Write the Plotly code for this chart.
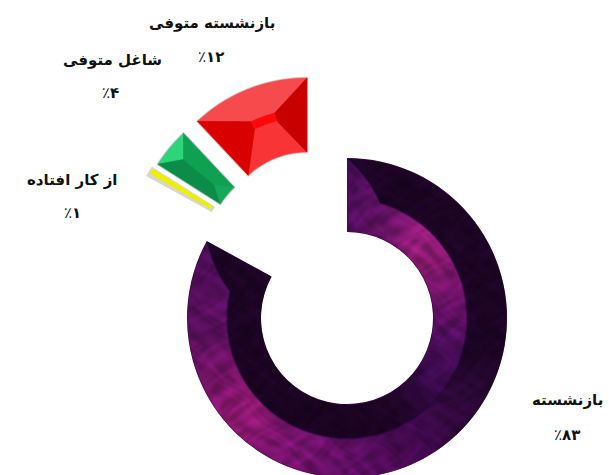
import base64
import math
import struct
import zlib

import numpy as np
import plotly.graph_objects as go

# ---- data ----
categories = ["بازنشسته", "از کار افتاده", "شاغل متوفی", "بازنشسته متوفی"]
shares = [83, 1, 4, 12]
share_digits = ["۸۳", "۱", "۴", "۱۲"]

# ---- layout constants (pixels) ----
W, H = 609, 478
CX, CY, R = 347, 318, 160
HOLE = 86
RMID = 120
OFFSETS = [(0, 0), (-60, -65), (-54, -68), (-40, -80)]
BASE = ["#3a0d45", "#d6d6d6", "#0f9a52", "#e01010"]
RIM = [0, 1, 2.5, 2.5]
LABEL_POS = [(567, 400, 567, 435), (72, 180, 72, 213), (112, 60, 110, 93), (212, 23, 211, 57)]
FONT = "DejaVu Sans"

OUTER_STOPS = [(0, "#1c0524"), (105, "#1d0526"), (125, "#2a0834"), (150, "#40094c"),
               (180, "#5c0e60"), (205, "#7a1470"), (226, "#981a78"), (245, "#761466"),
               (265, "#5c1060"), (300, "#4a0d54")]
INNER_STOPS = [(0, "#4e0e5c"), (25, "#6c1468"), (45, "#961d78"), (60, "#8a1a72"),
               (80, "#6a1266"), (100, "#4f0e5c"), (125, "#3a0a4c"), (150, "#200528"),
               (175, "#1a0422"), (300, "#1c0524")]


def hex2rgb(c):
    return [int(c[i:i + 2], 16) for i in (1, 3, 5)]


def px(cx, cy, r, a):
    th = math.radians(a)
    return cx + r * math.sin(th), cy - r * math.cos(th)


def facet(center, pts, color, line=0.6):
    """pts: (radius, angle) pairs in polar coordinates about the slice's own centre."""
    xy = [px(center[0], center[1], r, a) for r, a in pts]
    path = "M " + " L ".join(f"{x / W:.5f} {1 - y / H:.5f}" for x, y in xy) + " Z"
    return dict(type="path", xref="paper", yref="paper", path=path, fillcolor=color,
                line=dict(color=color, width=line), layer="above")


def arc(r, a0, a1, n=14):
    return [(r, a0 + (a1 - a0) * i / n) for i in range(n + 1)]


def ramp(stops, ang):
    xs = [s[0] for s in stops]
    cols = np.array([hex2rgb(s[1]) for s in stops], dtype=float)
    return np.stack([np.interp(ang, xs, cols[:, k]) for k in range(3)], axis=-1)


def ring_skin_png(a0, a1, m0=16, m1=16):
    """Bevel shading and mottling that lie over the main slice, as an RGBA PNG of the whole page."""
    yy, xx = np.mgrid[0:H * 2, 0:W * 2] / 2.0
    dx, dy = xx - CX, yy - CY
    rad = np.hypot(dx, dy)
    ang = np.degrees(np.arctan2(dx, -dy)) % 360
    edge = np.full_like(rad, float(RMID))
    edge = np.where(ang < a0 + m0, R + (RMID - R) * (ang - a0) / m0, edge)
    edge = np.where(ang > a1 - m1, R + (RMID - R) * (a1 - ang) / m1, edge)
    rgb = np.where((rad >= edge)[..., None], ramp(OUTER_STOPS, ang), ramp(INNER_STOPS, ang))
    # faint dark seam between the two bands
    seam = np.clip(1 - np.abs(rad - edge) / 1.5, 0, 1)[..., None]
    rgb = rgb * (1 - seam) + np.array([38, 8, 58.0]) * seam
    # soft mottling: curved, irregular ripples rather than a straight weave
    n = np.zeros_like(rad)
    waves = [(0.09, 0.13, 0.0, 1.0), (-0.17, 0.07, 1.3, 1.0), (0.23, -0.11, 2.1, 0.8),
             (0.11, 0.29, 0.7, 0.8), (0.37, 0.19, 3.3, 0.6), (-0.27, 0.41, 4.1, 0.5)]
    for fx, fy, ph, amp in waves:
        warp = 3.5 * np.sin(xx * fy * 0.31 + yy * fx * 0.47 + ph) + 2.5 * np.sin(yy * fy * 0.23 - xx * fx * 0.19 + 2 * ph)
        n += amp * np.sin(xx * fx + yy * fy + ph + warp)
    n = np.clip(n / 3.0, -1, 1)
    rgb = np.clip(rgb * (1 + 0.20 * n[..., None]), 0, 255)
    # soft edges
    alpha = (np.clip(R - rad, 0, 1) * np.clip(rad - HOLE, 0, 1)
             * np.clip((ang - a0) * 3, 0, 1) * np.clip((a1 - ang) * 3, 0, 1))
    img = np.dstack([rgb, alpha * 255]).astype(np.uint8)
    raw = b"".join(b"\x00" + img[r].tobytes() for r in range(img.shape[0]))

    def chunk(tag, data):
        return struct.pack(">I", len(data)) + tag + data + struct.pack(">I", zlib.crc32(tag + data))

    png = b"\x89PNG\r\n\x1a\n" + chunk(b"IHDR", struct.pack(">IIBBBBB", img.shape[1], img.shape[0], 8, 6, 0, 0, 0))
    png += chunk(b"IDAT", zlib.compress(raw, 9)) + chunk(b"IEND", b"")
    return "data:image/png;base64," + base64.b64encode(png).decode()


# slice boundaries come from the data
bounds, c = [], 0
for v in shares:
    bounds.append((c / sum(shares) * 360, (c + v) / sum(shares) * 360))
    c += v

fig = go.Figure()
for i, (dx, dy) in enumerate(OFFSETS):
    x0, x1 = (CX + dx - R) / W, (CX + dx + R) / W
    y0, y1 = 1 - (CY + dy + R) / H, 1 - (CY + dy - R) / H
    colors = ["rgba(0,0,0,0)"] * len(shares)
    widths = [0] * len(shares)
    colors[i] = BASE[i]
    widths[i] = RIM[i]
    fig.add_trace(go.Pie(
        labels=categories, values=shares, sort=False, direction="clockwise", rotation=0,
        hole=HOLE / R, textinfo="none", hoverinfo="skip", showlegend=False,
        domain=dict(x=[x0, x1], y=[y0, y1]),
        marker=dict(colors=colors, line=dict(color="#d6d6d6", width=widths)),
    ))

shapes = []

# yellow slice: bright strip over its grey base
a0, a1 = bounds[1]
c1 = (CX + OFFSETS[1][0], CY + OFFSETS[1][1])
shapes.append(facet(c1, arc(R - 2, a0 + 1.3, a1 - 0.3, 2) + arc(HOLE + 2, a1 - 0.3, a0 + 1.3, 2), "#eef000"))

# red slice facets
a0, a1 = bounds[3]
c3 = (CX + OFFSETS[3][0], CY + OFFSETS[3][1])
r0, r1 = a0 + 17.5, a1 - 14.5
shapes.append(facet(c3, arc(R, a0, a1) + arc(RMID + 9, r1, r0), "#f64a4c"))
shapes.append(facet(c3, arc(HOLE, a0, a1) + arc(RMID + 1, r1, r0), "#f83436"))
shapes.append(facet(c3, [(R, a0), (RMID + 9, r0), (RMID + 1, r0), (HOLE, a0)], "#d80000"))
shapes.append(facet(c3, [(R, a1), (RMID + 9, r1), (RMID + 1, r1), (HOLE, a1)], "#c80000"))
shapes.append(facet(c3, arc(RMID + 9, r0, r1) + arc(RMID + 1, r1, r0), "#ff0808"))

# green slice facets
a0, a1 = bounds[2]
c2 = (CX + OFFSETS[2][0], CY + OFFSETS[2][1])
am = (a0 + a1) / 2
shapes.append(facet(c2, arc(R, a0, a1, 6) + [(142, am)], "#2ed47a"))
shapes.append(facet(c2, [(R, a0), (142, am), (102, am), (HOLE, a0)], "#0c8c48"))
shapes.append(facet(c2, [(R, a1), (142, am), (102, am), (HOLE, a1)], "#0fa052"))
shapes.append(facet(c2, arc(HOLE, a0, a1, 6) + [(102, am)], "#16a85a"))

annotations = []
for (lx, ly, px_, py_), name, digits in zip(LABEL_POS, categories, share_digits):
    annotations.append(dict(x=lx / W, y=1 - ly / H, xref="paper", yref="paper", text=f"<b>{name}</b>",
                            showarrow=False, xanchor="center", yanchor="middle",
                            font=dict(family=FONT, size=15, color="#111111")))
    annotations.append(dict(x=px_ / W, y=1 - py_ / H, xref="paper", yref="paper", text=f"٪<b>{digits}</b>",
                            showarrow=False, xanchor="center", yanchor="middle",
                            font=dict(family=FONT, size=15, color="#111111")))

images = [dict(source=ring_skin_png(*bounds[0]), xref="paper", yref="paper", x=0, y=1, sizex=1, sizey=1,
               xanchor="left", yanchor="top", sizing="stretch", layer="above")]

fig.update_layout(width=W, height=H, margin=dict(l=0, r=0, t=0, b=0), showlegend=False,
                  paper_bgcolor="white", plot_bgcolor="white", shapes=shapes, annotations=annotations,
                  images=images)
fig.write_html("out.html", config=dict(displayModeBar=False), post_script=(
    "document.body.style.margin='0';"
    "document.documentElement.style.overflow='hidden';"
    "document.body.style.overflow='hidden';"))
